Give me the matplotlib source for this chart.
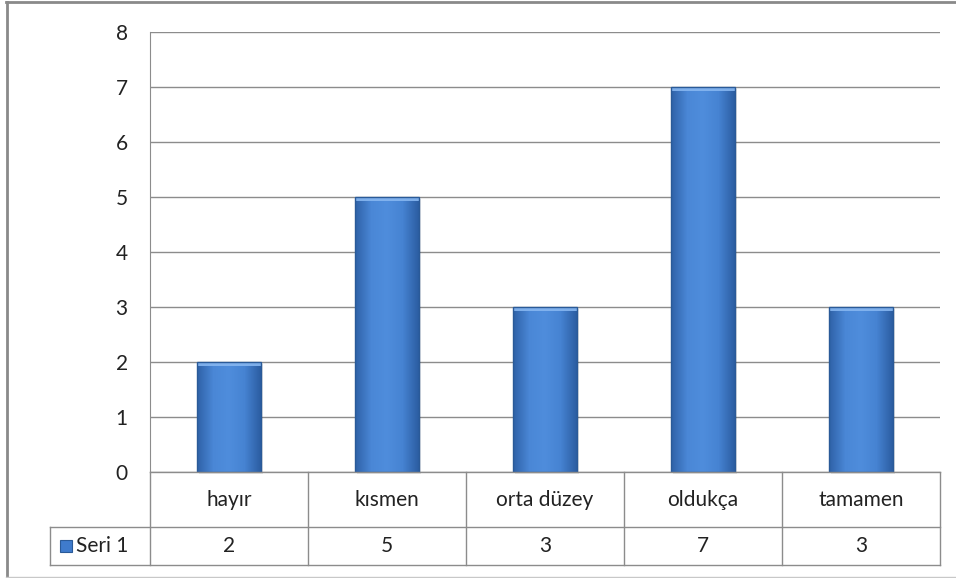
import numpy as np
import matplotlib.pyplot as plt
from matplotlib.lines import Line2D
from matplotlib.patches import Rectangle
from matplotlib.colors import LinearSegmentedColormap

plt.rcParams['font.family'] = ['Lato', 'DejaVu Sans']

# Data
categories = ['hayır', 'kısmen', 'orta düzey', 'oldukça', 'tamamen']
values = [2, 5, 3, 7, 3]
series_name = 'Seri 1'

W, H = 956, 578
fig = plt.figure(figsize=(W / 100, H / 100), dpi=100)


def fx(px):
    return px / W


def fy(py):
    return 1 - py / H


# main plot area
left, right, top, bottom = 150, 940, 32, 472
ax = fig.add_axes([fx(left), fy(bottom), fx(right - left), (bottom - top) / H])
ax.set_xlim(-0.5, len(categories) - 0.5)
ax.set_ylim(0, 8)
ax.set_yticks(range(0, 9))
ax.set_xticks([])
ax.yaxis.grid(True, color='#8c8c8c', linewidth=1)
ax.set_axisbelow(True)
for s in ['top', 'right', 'bottom']:
    ax.spines[s].set_visible(False)
ax.spines['left'].set_color('#8c8c8c')
ax.tick_params(axis='y', length=0, pad=16, labelsize=15, labelcolor='#222222')

# bars with a horizontal shading
cmap = LinearSegmentedColormap.from_list('bar', ['#2f62a8', '#4a87d6', '#4f8ddc', '#4683d2', '#2c5ea3'])
grad = np.linspace(0, 1, 64).reshape(1, -1)
width = 0.405
bars = ax.bar(range(len(values)), values, width=width, color='none', edgecolor='#2a5a98', linewidth=1, zorder=3)
for b in bars:
    x0, w, h = b.get_x(), b.get_width(), b.get_height()
    # soft shadow
    ax.add_patch(Rectangle((x0 + 0.015, -0.04), w, h, color='#000000', alpha=0.1, zorder=2, clip_on=False, linewidth=0))
    im = ax.imshow(grad, cmap=cmap, aspect='auto', extent=(x0, x0 + w, 0, h), zorder=2.5)
    im.set_clip_path(b)
    # light bevel at the top
    ax.add_patch(Rectangle((x0, h - 0.07), w, 0.07, color='#86b6f0', alpha=0.9, zorder=2.6, linewidth=0))

# data table below the plot
line_c = '#8c8c8c'
row1, row2, row3 = 472, 527, 565
col_w = (right - left) / len(categories)
lines = [
    ((left, right), (row1, row1)),
    ((50, right), (row2, row2)),
    ((50, right), (row3, row3)),
    ((50, 50), (row2, row3)),
]
for i in range(len(categories) + 1):
    x = left + i * col_w
    lines.append(((x, x), (row1, row3)))
for (xs, ys) in lines:
    fig.add_artist(Line2D([fx(v) for v in xs], [fy(v) for v in ys], color=line_c, linewidth=1))

for i, (cat, val) in enumerate(zip(categories, values)):
    cx = left + (i + 0.5) * col_w
    fig.text(fx(cx), fy((row1 + row2) / 2), cat, ha='center', va='center', fontsize=15, color='#222222')
    fig.text(fx(cx), fy((row2 + row3) / 2), str(val), ha='center', va='center', fontsize=15, color='#222222')

# legend key and series name
fig.add_artist(Rectangle((fx(60), fy(552)), fx(12), 12 / H, facecolor='#3f7bcc', edgecolor='#2a5a98', linewidth=0.8))
fig.text(fx(76), fy((row2 + row3) / 2), series_name, ha='left', va='center', fontsize=15, color='#222222')

# outer chart border
fig.add_artist(Line2D([fx(6.5), fx(6.5)], [fy(2), fy(577)], color='#8a8a8a', linewidth=2))
fig.add_artist(Line2D([fx(6), fx(956)], [fy(2), fy(2)], color='#8a8a8a', linewidth=2))
fig.add_artist(Line2D([fx(6), fx(956)], [fy(577), fy(577)], color='#c8c8c8', linewidth=1))

fig.savefig('out.png', dpi=100)
